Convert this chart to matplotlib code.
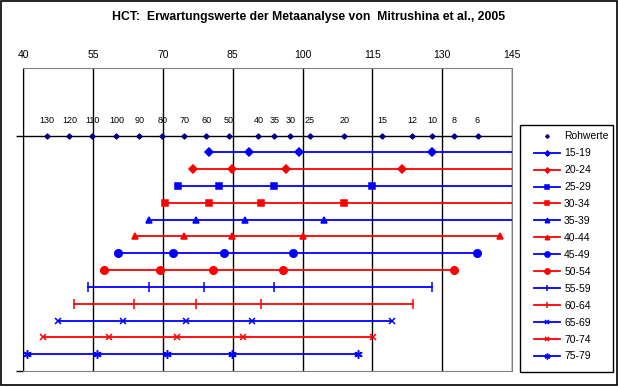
import matplotlib
matplotlib.use("Agg")
import matplotlib.pyplot as plt

plt.rcParams['font.family'] = ['Liberation Sans', 'DejaVu Sans']

# Data
title = "HCT:  Erwartungswerte der Metaanalyse von  Mitrushina et al., 2005"
x_ticks = [40, 55, 70, 85, 100, 115, 130, 145]

raw_labels = ["130", "120", "110", "100", "90", "80", "70", "60", "50", "40",
              "35", "30", "25", "20", "15", "12", "10", "8", "6"]
raw_x = [45.0, 49.9, 54.8, 60.0, 64.9, 69.9, 74.6, 79.3, 84.1, 90.5,
         93.9, 97.4, 101.5, 109.0, 117.1, 123.6, 127.9, 132.6, 137.6]

groups = ["15-19", "20-24", "25-29", "30-34", "35-39", "40-44", "45-49",
          "50-54", "55-59", "60-64", "65-69", "70-74", "75-79"]
# expected values per age group (last points of the top rows lie beyond 145)
values = [
    [79.8, 88.4, 99.3, 127.9, 167.0],
    [76.5, 84.9, 96.4, 121.4, 162.0],
    [73.3, 82.1, 93.9, 115.0, 157.0],
    [70.5, 79.8, 91.1, 109.0, 152.0],
    [66.9, 77.0, 87.7, 104.5, 147.5],
    [63.9, 74.6, 84.9, 100.0, 142.5],
    [60.3, 72.1, 83.1, 98.0, 137.5],
    [57.4, 69.4, 80.7, 95.8, 132.5],
    [53.9, 66.9, 78.9, 93.9, 127.9],
    [51.0, 63.8, 77.0, 91.1, 123.7],
    [47.4, 61.5, 75.0, 89.1, 119.3],
    [44.3, 58.5, 73.0, 87.1, 115.1],
    [40.9, 55.8, 70.9, 84.9, 112.0],
]
colors = ["#0000FF", "#FF0000"] * 7
markers = ["D", "D", "s", "s", "^", "^", "o", "o", "|", "|", "x", "x", (6, 2, 0)]
msizes = [3.6, 3.6, 5, 5, 4.6, 4.6, 5.4, 5.4, 6.5, 6.5, 5, 5, 6]

fig = plt.figure(figsize=(6.18, 3.87), dpi=100)
ax = fig.add_axes([23.3 / 618, 1 - 371 / 387, (512 - 23.3) / 618, (371 - 68.3) / 387])

# outer chart border and legend box
fig.patches.append(plt.Rectangle((0.001, 0.004), 0.997, 0.993, transform=fig.transFigure,
                                 fill=False, edgecolor="black", lw=1.2))
fig.patches.append(plt.Rectangle((520 / 618, 1 - 372 / 387), 93 / 618, 247 / 387,
                                 transform=fig.transFigure, fill=False,
                                 edgecolor="black", lw=1))

handles = []
h = ax.plot(raw_x, [14] * len(raw_x), linestyle="none", marker="D", ms=2.6,
            color="#000080", label="Rohwerte", zorder=4)[0]
handles.append(h)
for lab, xv in zip(raw_labels, raw_x):
    ax.annotate(lab, (xv, 14), xytext=(0, 7.5), textcoords="offset points",
                ha="center", va="bottom", fontsize=6.5)

n = len(groups)
for i, (g, vals) in enumerate(zip(groups, values)):
    y = n - i
    h = ax.plot(vals, [y] * len(vals), color=colors[i], lw=1.3, marker=markers[i],
                ms=msizes[i], mew=1.1, label=g, zorder=3)[0]
    handles.append(h)

ax.axhline(14, color="black", lw=1, zorder=2)

ax.set_xlim(40, 145)
ax.set_ylim(0, 18)
ax.set_xticks(x_ticks)
ax.xaxis.tick_top()
ax.tick_params(axis="x", length=0, pad=6, labelsize=7.5)
ax.set_yticks([0, 14])
ax.set_yticklabels([])
ax.tick_params(axis="y", length=5, width=1, color="black")
ax.grid(axis="x", color="black", lw=1)
ax.set_axisbelow(True)

for s in ["top", "right", "bottom"]:
    ax.spines[s].set_color("#808080")
ax.spines["left"].set_color("black")

fig.text(0.5, 1 - 17 / 387, title, ha="center", va="center", fontsize=8.8, fontweight="bold")

leg = fig.legend(handles=handles, loc="upper left",
                 bbox_to_anchor=(524 / 618, 1 - 121 / 387), fontsize=7.5,
                 frameon=False, handlelength=2.5, labelspacing=0.665,
                 borderpad=0.5, handletextpad=0.35, markerscale=0.7)

fig.savefig("out.png", dpi=100)
